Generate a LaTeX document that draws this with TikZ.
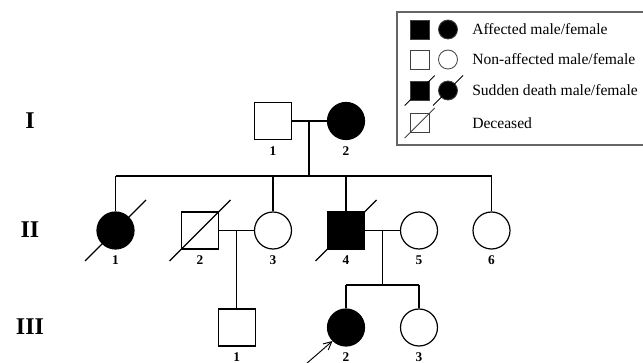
\documentclass[tikz,border=0pt]{standalone}
\usepackage{fontspec}
\setmainfont{Liberation Serif}
\usetikzlibrary{arrows.meta}

\tikzset{
  person/.style={draw, line width=0.9pt, minimum size=27.75pt, inner sep=0pt},
  male/.style={person, rectangle},
  female/.style={person, circle},
  affected/.style={fill=black},
  num/.style={font=\bfseries\fontsize{10}{12}\selectfont, inner sep=0pt},
  gen/.style={font=\bfseries\fontsize{18}{20}\selectfont, inner sep=0pt},
  line/.style={line width=0.9pt},
  keysym/.style={draw=black!75, line width=0.6pt, minimum size=14.25pt, inner sep=0pt},
  keyslash/.style={draw=black!75, line width=0.6pt},
  keytext/.style={anchor=west, inner sep=0pt, font=\fontsize{11.7}{14}\selectfont},
}

\begin{document}
\begin{tikzpicture}[x=0.75pt, y=-0.75pt, label distance=4.5pt, every label/.style={num}]
        \useasboundingbox (0,0) rectangle (643,363);

        % Generations
        \node[gen] (gI) at (30,121) {I};
        \node[gen] (gII) at (30,230) {II};
        \node[gen] (gIII) at (30,327) {III};

        % Generation I
        \node[male, label=below:1] (I1) at (273,121) {};
        \node[female, affected, label=below:2] (I2) at (346,121) {};

        % Generation II
        \node[female, affected, label=below:1] (II1) at (115.5,230.5) {};
        \node[male, label=below:2] (II2) at (200,230.5) {};
        \node[female, label=below:3] (II3) at (273,230.5) {};
        \node[male, affected, label=below:4] (II4) at (346,230.5) {};
        \node[female, label=below:5] (II5) at (419,230.5) {};
        \node[female, label=below:6] (II6) at (491.5,230.5) {};

        % Generation III
        \node[male, label=below:1] (III1) at (236.7,327.5) {};
        \node[female, affected, label=below:2] (III2) at (346,327.5) {};
        \node[female, label=below:3] (III3) at (419,327.5) {};

        % Marriages and sibships
        \coordinate (m1) at (309,121);
        \coordinate (s1) at (309,176);
        \coordinate (m2) at (236.7,230.5);
        \coordinate (m3) at (382.7,230.5);
        \coordinate (s3) at (382.7,285);

        \draw[line] (I1) -- (I2);
        \draw[line] (m1) -- (s1);
        \draw[line] (II1 |- s1) -- (II6 |- s1);
        \draw[line] (II1 |- s1) -- (II1);
        \draw[line] (II3 |- s1) -- (II3);
        \draw[line] (II4 |- s1) -- (II4);
        \draw[line] (II6 |- s1) -- (II6);

        \draw[line] (II2) -- (II3);
        \draw[line] (m2) -- (III1);

        \draw[line] (II4) -- (II5);
        \draw[line] (m3) -- (s3);
        \draw[line] (III2 |- s3) -- (III3 |- s3);
        \draw[line] (III2 |- s3) -- (III2);
        \draw[line] (III3 |- s3) -- (III3);

        % Deceased
        \draw[line] (II1.center) ++(-30.5,30.5) -- ++(61,-61);
        \draw[line] (II2.center) ++(-30.5,30.5) -- ++(61,-61);
        \draw[line] (II4.center) ++(-30.5,30.5) -- ++(61,-61);

        % Proband
        \coordinate (pb) at (306,364);
        \draw[line width=0.7pt, -{Straight Barb[length=6pt, width=6pt]}] (pb) -- (III2.south west);

        % Legend
        \draw[draw=black!60, line width=0.8pt] (643,12) -- (397,12) -- (397,145) -- (643,145);
        \node[keysym, rectangle, fill=black] (k1m) at (419.7,29.5) {};
        \node[keysym, circle, fill=black] (k1f) at (448,29.5) {};
        \node[keytext] (k1t) at (472,29.5) {Affected male/female};

        \node[keysym, rectangle] (k2m) at (419.7,59.5) {};
        \node[keysym, circle] (k2f) at (448,59.5) {};
        \node[keytext] (k2t) at (472,59.5) {Non-affected male/female};

        \node[keysym, rectangle, fill=black] (k3m) at (419.7,90.5) {};
        \node[keysym, circle, fill=black] (k3f) at (448,90.5) {};
        \draw[keyslash, draw=black] (k3m.center) ++(-15,15) -- ++(30,-30);
        \draw[keyslash, draw=black] (k3f.center) ++(-15,15) -- ++(30,-30);
        \node[keytext] (k3t) at (472,90.5) {Sudden death male/female};

        \node[keysym, rectangle] (k4m) at (419.7,123) {};
        \draw[keyslash] (k4m.center) ++(-15,15) -- ++(30,-30);
        \node[keytext] (k4t) at (472,123) {Deceased};
    \end{tikzpicture}
\end{document}
